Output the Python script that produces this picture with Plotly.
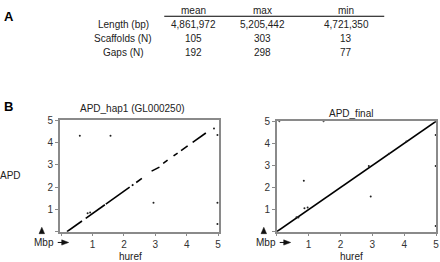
import plotly.graph_objects as go

# ---- Panel A table data ----
row_labels = ["Length (bp)", "Scaffolds (N)", "Gaps (N)"]
col_headers = ["mean", "max", "min"]
mean_vals = ["4,861,972", "105", "192"]
max_vals = ["5,205,442", "303", "298"]
min_vals = ["4,721,350", "13", "77"]

# ---- Panel B left (APD_hap1) data, Mbp ----
hap1_seg_x0 = [0.18, 0.78, 1.42, 2.25, 2.39, 2.88, 3.25, 3.58, 3.82, 4.19]
hap1_seg_x1 = [0.66, 1.39, 2.18, 2.30, 2.57, 3.13, 3.39, 3.71, 4.03, 4.61]
hap1_seg_y0 = [0.00, 0.60, 1.24, 2.07, 2.21, 2.72, 3.07, 3.40, 3.64, 4.01]
hap1_seg_y1 = [0.48, 1.21, 2.00, 2.12, 2.39, 2.90, 3.21, 3.53, 3.85, 4.43]
hap1_dots_x = [0.59, 1.57, 0.84, 0.92, 2.94, 4.98, 4.98, 4.98, 4.87]
hap1_dots_y = [4.31, 4.31, 0.83, 0.86, 1.30, 4.34, 1.30, 0.35, 4.63]

# ---- Panel B right (APD_final) data, Mbp ----
final_line_x = [0, 5]
final_line_y = [0, 5]
final_dots_x = [0.08, 1.47, 0.85, 0.87, 0.97, 0.62, 0.68, 2.89, 2.95, 3.52, 4.07, 4.99, 4.99, 4.99]
final_dots_y = [5.00, 5.00, 2.31, 1.06, 1.10, 0.66, 0.64, 2.98, 1.60, 3.53, 4.08, 4.38, 2.98, 0.26]

tick_vals = [0, 1, 2, 3, 4, 5]
tick_text = ["", "1", "2", "3", "4", "5"]

W, H = 440, 262
def px(x):
    return x / W
def py(y):
    return 1 - y / H

FONT = "Liberation Sans, Arial, sans-serif"

fig = go.Figure()

seg_x, seg_y = [], []
for a, b, c, d in zip(hap1_seg_x0, hap1_seg_x1, hap1_seg_y0, hap1_seg_y1):
    seg_x += [a, b, None]
    seg_y += [c, d, None]
fig.add_trace(go.Scatter(x=seg_x, y=seg_y, mode="lines", line=dict(color="black", width=1.6),
                         xaxis="x", yaxis="y", showlegend=False, hoverinfo="skip"))
fig.add_trace(go.Scatter(x=hap1_dots_x, y=hap1_dots_y, mode="markers",
                         marker=dict(color="#222", size=2), xaxis="x", yaxis="y", showlegend=False))

fig.add_trace(go.Scatter(x=final_line_x, y=final_line_y, mode="lines", line=dict(color="black", width=1.6),
                         xaxis="x2", yaxis="y2", showlegend=False, hoverinfo="skip"))
fig.add_trace(go.Scatter(x=final_dots_x, y=final_dots_y, mode="markers",
                         marker=dict(color="#222", size=2), xaxis="x2", yaxis="y2", showlegend=False))

axis_common = dict(showline=True, mirror=True, linecolor="#8a8a8a", linewidth=1.5,
                   showgrid=False, zeroline=False, ticks="outside", ticklen=3, tickcolor="#8a8a8a",
                   tickvals=tick_vals, ticktext=tick_text,
                   tickfont=dict(family=FONT, size=10, color="#333"))

fig.update_layout(
    width=W, height=H, margin=dict(l=0, r=0, t=0, b=0),
    paper_bgcolor="white", plot_bgcolor="white",
    xaxis=dict(domain=[px(60), px(220)], range=[-0.05, 5.03], anchor="y", **axis_common),
    yaxis=dict(domain=[py(231), py(117)], range=[0, 5], anchor="x", **axis_common),
    xaxis2=dict(domain=[px(278), px(438)], range=[0, 5], anchor="y2", **axis_common),
    yaxis2=dict(domain=[py(231), py(118)], range=[0, 5], anchor="x2", **axis_common),
    showlegend=False,
)

ann = []
def text(x, y, s, size=10, bold=False, color="#222"):
    ann.append(dict(x=px(x), y=py(y), xref="paper", yref="paper", text=f"<b>{s}</b>" if bold else s,
                    showarrow=False, xanchor="center", yanchor="middle",
                    font=dict(family=FONT, size=size, color=color)))

text(9, 11, "A", size=13, bold=True, color="black")
text(9, 103, "B", size=13, bold=True, color="black")

col_x = [194, 264, 348]
row_y = [19, 33, 48]
for cx, h in zip(col_x, col_headers):
    text(cx, 5, h)
for ry, lab in zip(row_y, row_labels):
    text(124, ry, lab)
for cx, vals in zip(col_x, [mean_vals, max_vals, min_vals]):
    for ry, v in zip(row_y, vals):
        text(cx, ry, v)

text(133, 105, "APD_hap1 (GL000250)")
text(353, 110, "APD_final")
text(11, 173, "APD")
text(131, 256, "huref")
text(353, 256, "huref")

shapes = [dict(type="line", xref="paper", yref="paper", x0=px(165), x1=px(386),
               y0=py(10.5), y1=py(10.5), line=dict(color="black", width=1))]

def tri_path(pts):
    return "M " + " L ".join(f"{px(a):.5f},{py(b):.5f}" for a, b in pts) + " Z"

for mx in [44, 267]:
    text(mx, 242, "Mbp")
    tx = mx - 2
    # up triangle
    shapes.append(dict(type="path", xref="paper", yref="paper",
                       path=tri_path([(tx - 2.8, 233), (tx + 2.8, 233), (tx, 226.5)]),
                       fillcolor="#111", line=dict(color="#111", width=0.5)))
    # right arrow tail + head
    shapes.append(dict(type="line", xref="paper", yref="paper", x0=px(mx + 14), x1=px(mx + 19),
                       y0=py(242), y1=py(242), line=dict(color="#111", width=1)))
    shapes.append(dict(type="path", xref="paper", yref="paper",
                       path=tri_path([(mx + 18, 239.3), (mx + 18, 244.7), (mx + 25, 242)]),
                       fillcolor="#111", line=dict(color="#111", width=0.5)))

fig.update_layout(annotations=ann, shapes=shapes)

fig.write_html("out.html", config={"displayModeBar": False},
               post_script="document.body.style.margin='0';document.body.style.overflow='hidden';")
